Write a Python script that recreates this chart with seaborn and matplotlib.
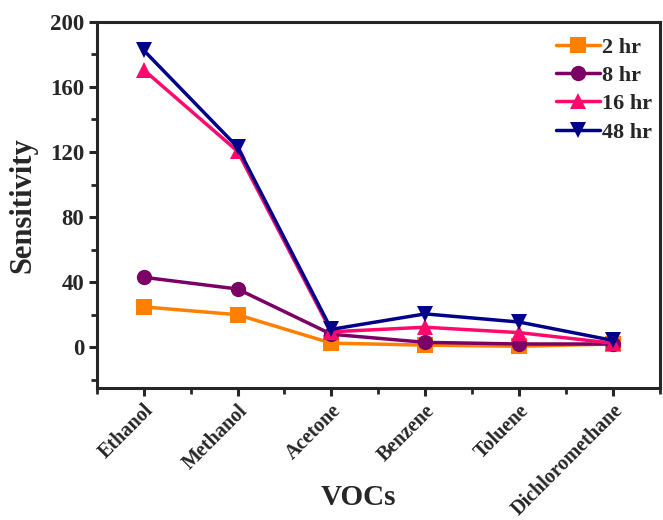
import numpy as np
import pandas as pd
import seaborn as sns
import matplotlib
matplotlib.use("Agg")
import matplotlib.pyplot as plt
from matplotlib.ticker import MultipleLocator

vocs = ["Ethanol", "Methanol", "Acetone", "Benzene", "Toluene", "Dichloromethane"]
hr2 = [24.8, 20.0, 2.5, 1.3, 0.6, 2.0]
hr8 = [43.0, 35.8, 8.0, 3.0, 2.0, 2.0]
hr16 = [170.5, 120.5, 9.5, 12.3, 9.0, 2.5]
hr48 = [182.5, 123.0, 11.0, 20.5, 15.5, 4.2]
series_names = ["2 hr", "8 hr", "16 hr", "48 hr"]
colors = ["#FF8000", "#7A0066", "#FF0A6C", "#000088"]
markers = ["s", "o", "^", "v"]

sns.set_style("ticks")
plt.rcParams["font.family"] = ["Liberation Serif", "DejaVu Serif"]
plt.rcParams["font.weight"] = "bold"

df = pd.DataFrame({
    "VOCs": vocs * 4,
    "Sensitivity": hr2 + hr8 + hr16 + hr48,
    "time": sum([[n] * len(vocs) for n in series_names], []),
})

fig = plt.figure(figsize=(6.63, 5.2), dpi=100)
ax = fig.add_axes([0.146, 0.254, 0.849, 0.704])

sns.lineplot(data=df, x="VOCs", y="Sensitivity", hue="time", style="time",
             palette=dict(zip(series_names, colors)),
             markers=dict(zip(series_names, markers)), dashes=False,
             markersize=11, markeredgewidth=0, linewidth=2.5, sort=False, ax=ax)

ax.set_xlim(-0.5, 5.5)
ax.set_ylim(-25, 200)
ax.set_yticks([0, 40, 80, 120, 160, 200])
ax.yaxis.set_minor_locator(MultipleLocator(20))
ax.set_xticks(range(len(vocs)))
ax.xaxis.set_minor_locator(MultipleLocator(0.5))
ax.set_xticklabels(vocs, rotation=45, ha="right", rotation_mode="anchor",
                   fontsize=14.5, fontweight="bold")
for lab in ax.get_yticklabels():
    lab.set_fontsize(16.5)
    lab.set_fontweight("bold")
ax.tick_params(which="major", length=6, width=2.2, direction="out", pad=3)
ax.tick_params(which="minor", length=4, width=2.0, direction="out")
for sp in ax.spines.values():
    sp.set_linewidth(2.2)

ax.set_xlabel("VOCs", fontsize=21, fontweight="bold")
ax.xaxis.set_label_coords(0.464, -0.262)
ax.xaxis.label.set_va("top")
ax.set_ylabel("Sensitivity", fontsize=22, fontweight="bold")
ax.yaxis.set_label_coords(-0.105, 0.5)

leg = ax.legend(loc="upper right", frameon=False, fontsize=16,
                handlelength=2.0, handletextpad=0.1, labelspacing=0.35,
                borderaxespad=0.2, bbox_to_anchor=(1.011, 0.995))
for t in leg.get_texts():
    t.set_fontweight("bold")

fig.savefig("out.png", dpi=100)
